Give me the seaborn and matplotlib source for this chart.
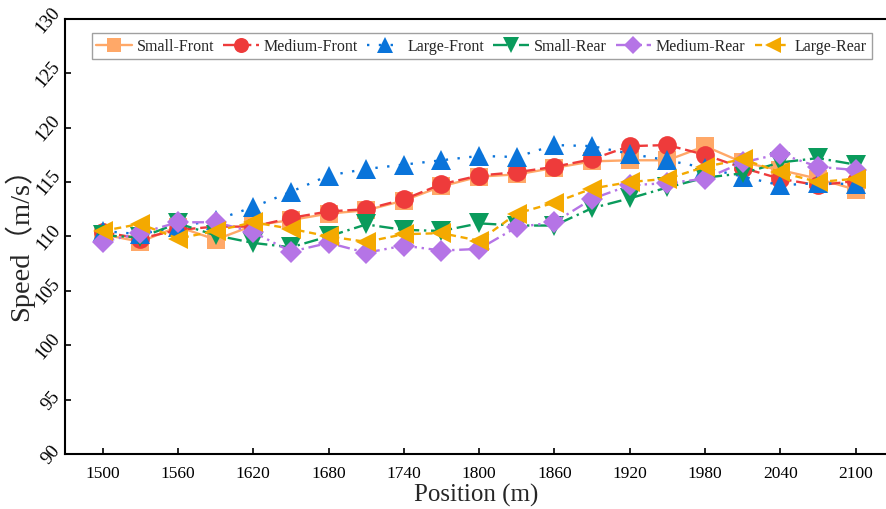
import matplotlib
matplotlib.use("Agg")
import matplotlib.pyplot as plt
import seaborn as sns
import pandas as pd

positions = [1500, 1530, 1560, 1590, 1620, 1650, 1680, 1710, 1740, 1770, 1800,
             1830, 1860, 1890, 1920, 1950, 1980, 2010, 2040, 2070, 2100]

small_front = [110.2, 109.5, 110.9, 109.7, 111.0, 111.5, 112.1, 112.4, 113.3, 114.6, 115.5,
               115.7, 116.3, 116.9, 117.0, 117.0, 118.3, 116.8, 116.1, 115.3, 114.3]
medium_front = [110.4, 109.8, 110.6, 110.9, 110.9, 111.7, 112.3, 112.5, 113.4, 114.8, 115.6,
                115.9, 116.4, 117.1, 118.3, 118.4, 117.5, 116.3, 115.3, 114.7, 115.1]
large_front = [110.5, 110.2, 110.9, 111.5, 112.7, 114.1, 115.6, 116.2, 116.6, 117.0, 117.4,
               117.3, 118.4, 118.3, 117.6, 117.0, 116.3, 115.5, 114.7, 114.9, 114.8]
small_rear = [110.1, 109.9, 111.2, 110.1, 109.4, 109.0, 110.0, 111.1, 110.6, 110.5, 111.2,
              111.0, 111.0, 112.6, 113.5, 114.5, 115.4, 115.8, 116.8, 117.2, 116.6]
medium_rear = [109.5, 110.3, 111.3, 111.3, 110.4, 108.6, 109.4, 108.5, 109.15, 108.7, 108.85,
               110.85, 111.3, 113.45, 114.7, 114.9, 115.3, 116.8, 117.6, 116.4, 116.1]
large_rear = [110.5, 111.15, 109.8, 110.5, 111.3, 110.7, 110.0, 109.5, 110.2, 110.3, 109.6,
              112.1, 113.1, 114.4, 115.0, 115.3, 116.4, 117.1, 115.9, 115.0, 115.3]

series_names = ["Small-Front", "Medium-Front", "Large-Front", "Small-Rear", "Medium-Rear", "Large-Rear"]
series_values = [small_front, medium_front, large_front, small_rear, medium_rear, large_rear]

x_ticks = [1500, 1560, 1620, 1680, 1740, 1800, 1860, 1920, 1980, 2040, 2100]
y_ticks = [90, 95, 100, 105, 110, 115, 120, 125, 130]

styles = {
    "Small-Front": dict(color="#FFA868", marker="s", ms=12.5, ls="-"),
    "Medium-Front": dict(color="#EE3B3B", marker="o", ms=13.5, ls=(0, (5, 2))),
    "Large-Front": dict(color="#0A74DA", marker="^", ms=15, ls=(0, (1, 4))),
    "Small-Rear": dict(color="#0A9B5C", marker="v", ms=15, ls=(0, (6, 2, 1, 2))),
    "Medium-Rear": dict(color="#B574E6", marker="D", ms=11.5, ls=(0, (5, 2, 1, 2, 1, 2))),
    "Large-Rear": dict(color="#F4A900", marker="<", ms=15, ls=(0, (3, 2))),
}

sns.set_theme(style="ticks")
plt.rcParams["font.family"] = ["Liberation Serif", "Noto Sans CJK SC"]

fig = plt.figure(figsize=(8.87, 5.10), dpi=100)
ax = fig.add_axes([0.0733, 0.108, 0.9267, 0.853])

for name, vals in zip(series_names, series_values):
    st = styles[name]
    df = pd.DataFrame({"Position": positions, "Speed": vals})
    sns.lineplot(data=df, x="Position", y="Speed", ax=ax, color=st["color"],
                 marker=st["marker"], markersize=st["ms"], markeredgewidth=0,
                 linestyle=st["ls"], linewidth=1.7, label=name)

ax.set_xlim(1470, 2125)
ax.set_ylim(90, 130)
ax.set_xticks(x_ticks)
ax.set_yticks(y_ticks)
ax.tick_params(direction="in", length=4, width=1.2, colors="black")
ax.tick_params(axis="x", labelsize=12.5, pad=8)
ax.tick_params(axis="y", labelsize=13.5, pad=1)
for lab in ax.get_yticklabels():
    lab.set_rotation(50)
    lab.set_ha("right")
    lab.set_va("center")

for side in ["left", "bottom", "top"]:
    ax.spines[side].set_linewidth(1.5)
    ax.spines[side].set_color("black")
ax.spines["right"].set_visible(False)

ax.set_xlabel("Position (m)", fontsize=18, labelpad=1)
ax.set_ylabel("Speed（m/s）", fontsize=20.5, labelpad=-1)

leg = ax.legend(loc="upper center", bbox_to_anchor=(0.507, 0.985), ncol=6, frameon=True,
                fancybox=False, edgecolor="#888888", fontsize=11.5, handlelength=2.2,
                columnspacing=0.6, handletextpad=0.3, borderpad=0.3, markerscale=0.8)
leg.get_frame().set_linewidth(1.0)

fig.savefig("out.png", dpi=100)
